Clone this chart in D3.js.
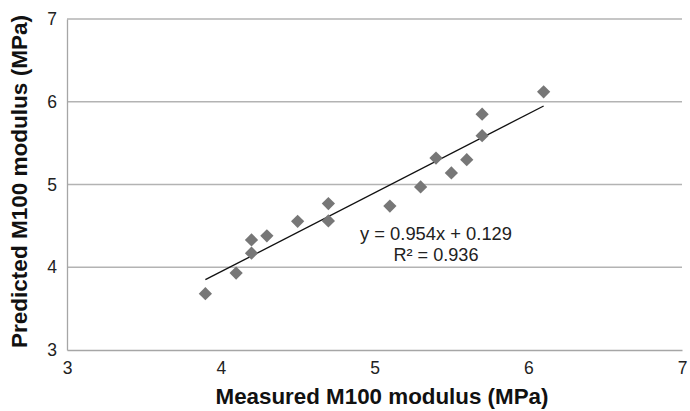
<!DOCTYPE html>
<html>
<head>
<meta charset="utf-8">
<script src="https://cdn.jsdelivr.net/npm/d3@7"></script>
<style>
  body { margin: 0; background: #fff; }
  svg { font-family: "Liberation Sans", Arial, sans-serif; }
</style>
</head>
<body>
<svg id="chart" width="690" height="411"></svg>
<script>
// Data
var measured  = [3.9, 4.1, 4.2, 4.2, 4.3, 4.5, 4.7, 4.7, 5.1, 5.3, 5.4, 5.5, 5.6, 5.7, 5.7, 6.1];
var predicted = [3.68, 3.93, 4.17, 4.33, 4.38, 4.555, 4.56, 4.77, 4.74, 4.97, 5.32, 5.14, 5.30, 5.59, 5.85, 6.12];
var xTicks = [3, 4, 5, 6, 7];
var yTicks = [3, 4, 5, 6, 7];
var slope = 0.954;
var intercept = 0.129;
var rSquared = 0.936;

var svg = d3.select('#chart');
var pad = {t: 19, r: 8, b: 61, l: 67};
var width = +svg.attr('width');
var height = +svg.attr('height');

var x = d3.scaleLinear().domain([3, 7]).range([pad.l, width - pad.r]);
var y = d3.scaleLinear().domain([3, 7]).range([height - pad.b, pad.t]);

// gridlines
svg.append('g')
    .selectAll('line')
    .data(yTicks.slice(1))
    .enter()
    .append('line')
    .attr('x1', x(3))
    .attr('x2', x(7))
    .attr('y1', d => y(d))
    .attr('y2', d => y(d))
    .attr('stroke', '#b3b3b3')
    .attr('stroke-width', 1.3);

// axes
var xAxis = svg.append('g')
    .attr('transform', `translate(0, ${y(3)})`)
    .call(d3.axisBottom(x).tickValues(xTicks).tickFormat(d3.format('d')).tickSize(0).tickPadding(12));
var yAxis = svg.append('g')
    .attr('transform', `translate(${x(3)}, 0)`)
    .call(d3.axisLeft(y).tickValues(yTicks).tickFormat(d3.format('d')).tickSize(0).tickPadding(10));

[xAxis, yAxis].forEach(function(a){
    a.select('.domain').attr('stroke', '#a6a6a6').attr('stroke-width', 1.3);
    a.selectAll('text')
        .attr('font-size', 17.5)
        .attr('font-family', '"Liberation Sans", Arial, sans-serif')
        .attr('fill', '#222');
});

// trend line over the measured range
var xr = d3.extent(measured);
svg.append('line')
    .attr('x1', x(xr[0]))
    .attr('y1', y(slope * xr[0] + intercept))
    .attr('x2', x(xr[1]))
    .attr('y2', y(slope * xr[1] + intercept))
    .attr('stroke', '#111')
    .attr('stroke-width', 1.3);

// diamond markers
var diamond = d3.symbol().type(d3.symbolSquare).size(88);
svg.append('g')
    .selectAll('path')
    .data(measured)
    .enter()
    .append('path')
    .attr('d', diamond)
    .attr('transform', (d, i) => `translate(${x(d)}, ${y(predicted[i])}) rotate(45)`)
    .attr('fill', '#777777');

// equation label
var eq = svg.append('text')
    .attr('text-anchor', 'middle')
    .attr('font-size', 18)
    .attr('fill', '#222');
eq.append('tspan').attr('x', 436).attr('y', 240)
    .attr('textLength', 152).attr('lengthAdjust', 'spacingAndGlyphs')
    .text(`y = ${slope.toFixed(3)}x + ${intercept.toFixed(3)}`);
eq.append('tspan').attr('x', 436).attr('y', 261)
    .attr('textLength', 85).attr('lengthAdjust', 'spacingAndGlyphs')
    .text(`R² = ${rSquared.toFixed(3)}`);

// axis titles
svg.append('text')
    .attr('x', 382)
    .attr('y', 404)
    .attr('text-anchor', 'middle')
    .attr('font-size', 21.5)
    .attr('font-weight', 'bold')
    .attr('fill', '#111')
    .attr('textLength', 333).attr('lengthAdjust', 'spacingAndGlyphs')
    .text('Measured M100 modulus (MPa)');

svg.append('text')
    .attr('transform', 'translate(27, 181.5) rotate(-90)')
    .attr('text-anchor', 'middle')
    .attr('font-size', 21.5)
    .attr('font-weight', 'bold')
    .attr('fill', '#111')
    .attr('textLength', 333).attr('lengthAdjust', 'spacingAndGlyphs')
    .text('Predicted M100 modulus (MPa)');
</script>
</body>
</html>
